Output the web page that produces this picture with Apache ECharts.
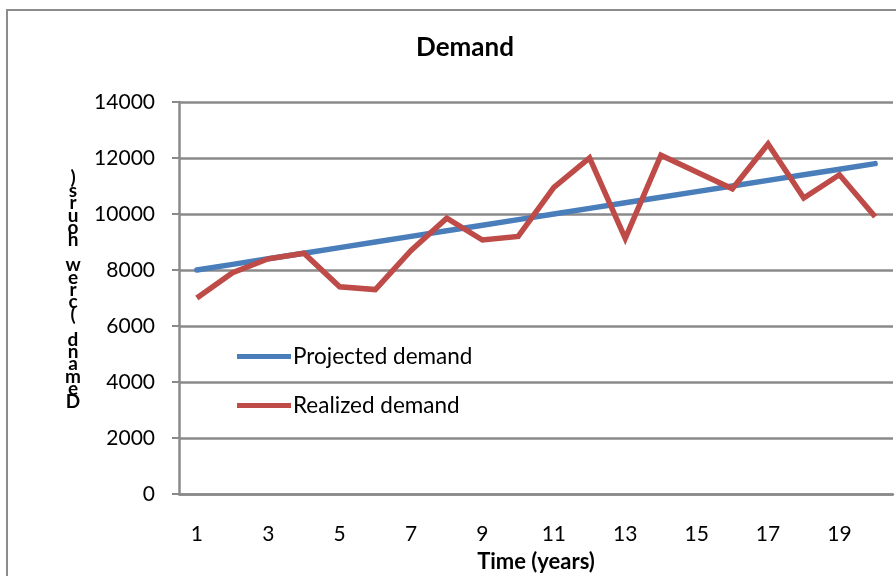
<!DOCTYPE html>
<html>
<head>
<meta charset="utf-8">
<script src="https://cdn.jsdelivr.net/npm/echarts@6/dist/echarts.min.js"></script>
<style>
  html, body { margin: 0; padding: 0; background: #fff; }
  #chart { width: 896px; height: 576px; }
</style>
</head>
<body>
<div id="chart"></div>
<script>
// Years 1..20 and yearly demand
const years = ['1','2','3','4','5','6','7','8','9','10','11','12','13','14','15','16','17','18','19','20'];
const projectedDemand = [8000, 8200, 8400, 8600, 8800, 9000, 9200, 9400, 9600, 9800,
                         10000, 10200, 10400, 10600, 10800, 11000, 11200, 11400, 11600, 11800];
const realizedDemand = [7000, 7900, 8400, 8600, 7400, 7300, 8700, 9850, 9070, 9200,
                        10950, 12000, 9130, 12100, 11500, 10900, 12500, 10570, 11400, 9900];
const yTicks = [0, 2000, 4000, 6000, 8000, 10000, 12000, 14000];

const FONT = 'Lato, "Open Sans", sans-serif';
const GRID_GRAY = '#8a8a8a';

// Vertical axis title, letters stacked upright from bottom to top
const yTitle = 'Demand (crew hours)';
const yTitleStacked = yTitle.split('').reverse().join('\n');

const chart = echarts.init(document.getElementById('chart'), null, { renderer: 'canvas' });
chart.setOption({
  backgroundColor: '#fff',
  animation: false,
  title: {
    text: 'Demand',
    left: 460, top: 30, textAlign: 'center',
    textStyle: { fontFamily: FONT, fontSize: 26, fontWeight: 'bold', color: '#000' }
  },
  graphic: [
    {
      type: 'rect', silent: true,
      shape: { x: 7, y: 10, width: 900, height: 600 },
      style: { fill: 'none', stroke: '#8c8c8c', lineWidth: 2 }
    },
    {
      type: 'text', silent: true,
      x: 73, y: 172,
      style: {
        text: yTitleStacked,
        font: 'bold 19px ' + FONT,
        lineHeight: 12.4,
        align: 'center',
        verticalAlign: 'top',
        fill: '#000'
      }
    }
  ],
  legend: {
    orient: 'vertical',
    left: 232, top: 340,
    itemWidth: 54, itemHeight: 5, itemGap: 26,
    icon: 'rect',
    textStyle: { fontFamily: FONT, fontSize: 22.5, color: '#000', padding: [0, 0, 0, -3] },
    data: ['Projected demand', 'Realized demand']
  },
  grid: { left: 179, right: 3, top: 102, bottom: 82, containLabel: false, outerBoundsMode: 'none' },
  xAxis: {
    type: 'category',
    data: years,
    boundaryGap: true,
    name: 'Time (years)',
    nameLocation: 'middle',
    nameGap: 57,
    nameTextStyle: { fontFamily: FONT, fontSize: 22, fontWeight: 'bold', color: '#000' },
    axisLine: { lineStyle: { color: GRID_GRAY, width: 2.5 } },
    axisTick: { show: false },
    axisLabel: { interval: 1, margin: 30, fontFamily: FONT, fontSize: 21, color: '#000' }
  },
  yAxis: {
    type: 'value',
    min: 0, max: 14000, interval: 2000,
    axisLine: { show: true, lineStyle: { color: GRID_GRAY, width: 2.5 } },
    axisTick: { show: true, length: 7, lineStyle: { color: GRID_GRAY, width: 2 } },
    splitLine: { lineStyle: { color: GRID_GRAY, width: 2.5 } },
    axisLabel: { margin: 24, fontFamily: FONT, fontSize: 21, color: '#000',
      formatter: v => yTicks.includes(v) ? String(v) : '' }
  },
  series: [
    {
      name: 'Projected demand', type: 'line', data: projectedDemand,
      symbol: 'none', color: '#4a7ebb',
      lineStyle: { width: 5.5, color: '#4a7ebb', cap: 'round' }
    },
    {
      name: 'Realized demand', type: 'line', data: realizedDemand,
      symbol: 'none', color: '#be4b48',
      lineStyle: { width: 5.5, color: '#be4b48', join: 'miter' }
    }
  ]
});
</script>
</body>
</html>
